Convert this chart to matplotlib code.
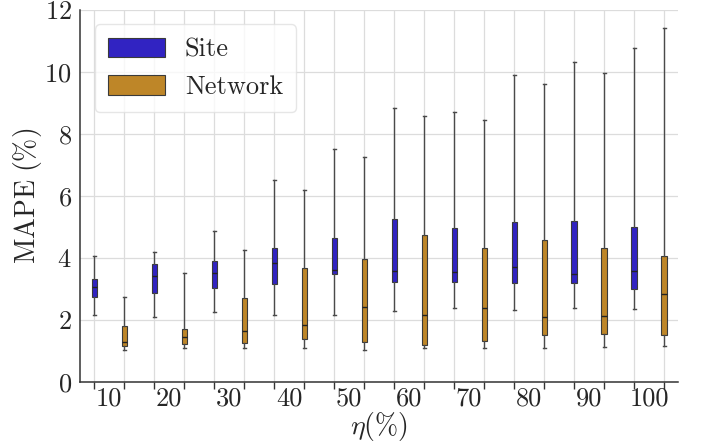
#! /usr/bin/env python3
"""Box plots of MAPE for site and network models across eta."""

import matplotlib
matplotlib.use('Agg')
import matplotlib.pyplot as plt
from matplotlib.patches import Patch
import numpy as np

eta = [10, 20, 30, 40, 50, 60, 70, 80, 90, 100]

# five-number summaries per eta: whisker low, q1, median, q3, whisker high
site_low = [2.15, 2.09, 2.25, 2.18, 2.15, 2.28, 2.40, 2.32, 2.40, 2.35]
site_q1 = [2.76, 2.88, 3.05, 3.16, 3.47, 3.23, 3.22, 3.20, 3.21, 2.99]
site_med = [3.06, 3.42, 3.52, 3.85, 3.60, 3.57, 3.54, 3.71, 3.48, 3.58]
site_q3 = [3.33, 3.80, 3.90, 4.33, 4.65, 5.27, 4.98, 5.17, 5.18, 5.01]
site_high = [4.05, 4.18, 4.86, 6.53, 7.50, 8.83, 8.70, 9.89, 10.31, 10.76]

net_low = [1.03, 1.09, 1.09, 1.09, 1.03, 1.09, 1.10, 1.10, 1.13, 1.18]
net_q1 = [1.16, 1.22, 1.27, 1.40, 1.29, 1.20, 1.34, 1.53, 1.55, 1.51]
net_med = [1.28, 1.47, 1.65, 1.85, 2.42, 2.15, 2.38, 2.10, 2.13, 2.84]
net_q3 = [1.81, 1.72, 2.70, 3.69, 3.98, 4.74, 4.32, 4.57, 4.32, 4.07]
net_high = [2.76, 3.51, 4.25, 6.19, 7.25, 8.59, 8.44, 9.60, 9.97, 11.42]

SITE_COLOR = '#3123c2'
NET_COLOR = '#be8628'
TEXT_COLOR = '#262626'
FS = 19
LABEL_FS = 20

plt.rcParams['font.family'] = 'serif'
plt.rcParams['font.serif'] = ['cmr10']
plt.rcParams['mathtext.fontset'] = 'cm'
plt.rcParams['axes.formatter.use_mathtext'] = True


def make_stats(low, q1, med, q3, high):
    """Build the dicts that Axes.bxp expects."""
    return [dict(whislo=a, q1=b, med=c, q3=d, whishi=e, fliers=[])
            for a, b, c, d, e in zip(low, q1, med, q3, high)]


def draw_boxes(ax, stats, positions, color):
    """Draw one series of boxes on ax."""
    ax.bxp(stats, positions=positions, widths=0.17, capwidths=0.1,
           patch_artist=True, showfliers=False,
           boxprops=dict(facecolor=color, edgecolor='#3a3a3a', linewidth=0.8),
           whiskerprops=dict(color='#4a4a4a', linewidth=1.0),
           capprops=dict(color='#4a4a4a', linewidth=1.0),
           medianprops=dict(color='#222222', linewidth=1.0),
           zorder=3)


def main():
    fig = plt.figure(figsize=(7.02, 4.48), dpi=100)
    ax = fig.add_axes([0.114, 0.147, 0.852, 0.831])

    n = len(eta)
    site_pos = np.arange(n) * 2
    net_pos = site_pos + 1

    draw_boxes(ax, make_stats(site_low, site_q1, site_med, site_q3, site_high),
               site_pos, SITE_COLOR)
    draw_boxes(ax, make_stats(net_low, net_q1, net_med, net_q3, net_high),
               net_pos, NET_COLOR)

    ax.set_xlim(-0.47, 2 * n - 0.53)
    ax.set_ylim(0, 12)
    ax.set_yticks(np.arange(0, 13, 2))

    # ticks and grid at every box, labels at the middle of each pair
    ax.set_xticks(np.arange(2 * n))
    ax.set_xticklabels([])
    ax.set_xticks(site_pos + 0.5, minor=True)
    ax.set_xticklabels([str(v) for v in eta], minor=True)
    ax.tick_params(axis='x', which='major', length=5, width=1,
                   color='#333333')
    ax.tick_params(axis='x', which='minor', length=0, pad=3, labelsize=FS,
                   labelcolor=TEXT_COLOR)
    ax.tick_params(axis='y', length=0, pad=6, labelsize=FS,
                   labelcolor=TEXT_COLOR)

    ax.grid(True, which='major', color='#dcdcdc', linewidth=0.9, zorder=0)
    ax.set_axisbelow(True)
    for side in ('top', 'right'):
        ax.spines[side].set_visible(False)
    for side in ('left', 'bottom'):
        ax.spines[side].set_color('#333333')
        ax.spines[side].set_linewidth(1.1)

    ax.set_xlabel(r'$\eta(\%)$', fontsize=LABEL_FS, color=TEXT_COLOR,
                  labelpad=0)
    ax.set_ylabel(r'$\mathrm{MAPE\ (\%)}$', fontsize=LABEL_FS,
                  color=TEXT_COLOR, labelpad=0)

    handles = [Patch(facecolor=SITE_COLOR, edgecolor='#3a3a3a',
                     linewidth=0.8, label='Site'),
               Patch(facecolor=NET_COLOR, edgecolor='#3a3a3a',
                     linewidth=0.8, label='Network')]
    leg = ax.legend(handles=handles, loc='upper left', fontsize=FS,
                    handlelength=2.16, handleheight=0.76,
                    handletextpad=0.76, labelspacing=0.52,
                    borderpad=0.5, borderaxespad=0.55, fancybox=True,
                    framealpha=0.8, edgecolor='#e0e0e0')
    for text in leg.get_texts():
        text.set_color(TEXT_COLOR)

    fig.savefig('out.png', dpi=100)


if __name__ == '__main__':
    main()
